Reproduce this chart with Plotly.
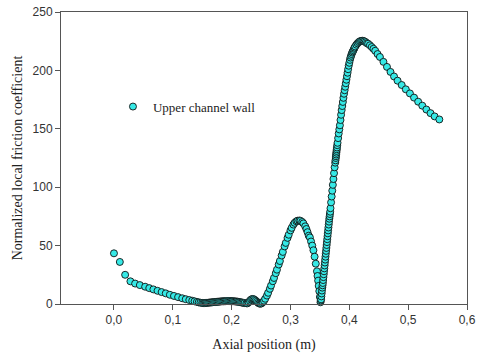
import plotly.graph_objects as go

# Axial position (m) and normalized local friction coefficient
axial_position = [
    0.000, 0.010, 0.019, 0.028, 0.036, 0.044, 0.053, 0.060, 0.067, 0.074,
    0.081, 0.088, 0.095, 0.102, 0.109, 0.116, 0.122, 0.128, 0.133, 0.137,
    0.141, 0.144, 0.147, 0.150, 0.152, 0.154, 0.156, 0.158,
    0.160, 0.162, 0.164, 0.166, 0.168, 0.170, 0.172, 0.174, 0.176, 0.178,
    0.180, 0.182, 0.184, 0.186, 0.188, 0.190, 0.192, 0.194, 0.196, 0.198,
    0.200, 0.202, 0.204, 0.206, 0.208, 0.210, 0.212, 0.214, 0.216, 0.218,
    0.220, 0.222, 0.225, 0.227,
    0.229, 0.231, 0.233, 0.235, 0.237, 0.239, 0.241, 0.243, 0.245, 0.247,
    0.249, 0.251, 0.253,
    0.255, 0.257, 0.260, 0.262, 0.265, 0.267, 0.270, 0.272, 0.275, 0.277,
    0.280, 0.282, 0.285, 0.287, 0.290, 0.292, 0.295, 0.297, 0.300, 0.302,
    0.305, 0.307, 0.310, 0.312, 0.315, 0.317, 0.320, 0.322, 0.325, 0.327,
    0.329, 0.331, 0.333, 0.335, 0.337, 0.339, 0.341, 0.343, 0.345, 0.346,
    0.347, 0.348, 0.349, 0.350, 0.351,
    0.3515, 0.352, 0.3525, 0.353, 0.3535, 0.354, 0.3545, 0.355, 0.3555, 0.356,
    0.3565, 0.357, 0.3575, 0.358, 0.3585, 0.359, 0.3595, 0.360, 0.3605, 0.361,
    0.3615, 0.362, 0.3625, 0.363, 0.3635, 0.364, 0.3645, 0.365, 0.3655, 0.366,
    0.3665, 0.367, 0.3675,
    0.368, 0.369, 0.370, 0.371, 0.372, 0.373, 0.374, 0.375, 0.376,
    0.3765, 0.377, 0.3773, 0.3776, 0.378, 0.3783, 0.3786, 0.379, 0.3795,
    0.380, 0.381, 0.382, 0.383, 0.384, 0.385, 0.386, 0.387, 0.388, 0.389,
    0.390, 0.391, 0.392, 0.393, 0.394, 0.395, 0.396, 0.397, 0.398, 0.399,
    0.400, 0.401, 0.402, 0.403, 0.404, 0.405, 0.406, 0.407, 0.408, 0.409,
    0.410, 0.412, 0.414, 0.416, 0.418, 0.420, 0.422, 0.424, 0.426, 0.428,
    0.430, 0.432, 0.435, 0.438, 0.441, 0.444, 0.448, 0.452, 0.458, 0.464,
    0.470, 0.476, 0.482, 0.489, 0.496, 0.503, 0.510, 0.517, 0.524, 0.531,
    0.538, 0.545, 0.553,
]
friction_coeff = [
    43.4, 36.0, 25.0, 19.4, 17.5, 16.2, 14.8, 13.6, 12.5, 11.3,
    10.2, 9.1, 7.9, 6.9, 5.9, 4.9, 4.1, 3.4, 2.8, 2.3,
    1.8, 1.4, 1.1, 0.9, 0.8, 0.8, 0.9, 1.0,
    1.1, 1.2, 1.3, 1.4, 1.5, 1.6, 1.7, 1.8, 1.9, 2.0,
    2.1, 2.2, 2.3, 2.3, 2.4, 2.4, 2.5, 2.5, 2.5, 2.5,
    2.4, 2.4, 2.3, 2.2, 2.1, 2.0, 1.8, 1.6, 1.4, 1.2,
    1.0, 0.8, 0.6, 0.6,
    1.5, 2.8, 3.8, 4.3, 4.2, 3.6, 2.8, 1.9, 1.0, 0.4,
    0.2, 0.6, 1.5,
    2.8, 4.5, 7.2, 9.6, 13.0, 15.8, 19.5, 22.3, 26.4, 29.4,
    33.8, 36.8, 41.5, 44.6, 49.3, 52.3, 56.6, 59.3, 63.0, 65.2,
    68.0, 69.5, 70.8, 71.3, 71.5, 71.2, 70.2, 69.0, 66.5, 64.2,
    61.5, 58.5, 57.0, 53.5, 50.0, 46.0, 40.5, 34.5, 28.0, 24.0,
    20.0, 15.5, 11.0, 6.0, 1.5,
    3.0, 4.0, 6.5, 9.0, 11.5, 14.0, 16.0, 18.0, 20.5, 23.0,
    25.5, 28.0, 30.5, 33.0, 35.5, 38.0, 40.5, 43.0, 45.5, 48.0,
    50.5, 53.0, 55.5, 58.0, 60.5, 63.0, 65.5, 68.0, 70.5, 73.0,
    75.0, 77.0, 79.0,
    82.0, 87.0, 92.0, 97.0, 102.0, 107.0, 112.0, 117.0, 121.0,
    123.0, 125.0, 126.5, 128.0, 129.5, 131.0, 132.5, 134.0, 136.0,
    138.0, 142.0, 146.0, 149.5, 153.0, 157.5, 162.0, 166.0, 169.5, 173.0,
    176.5, 180.0, 183.0, 186.0, 189.0, 192.0, 195.0, 198.0, 201.0, 204.0,
    206.5, 209.0, 211.0, 212.5, 214.0, 215.3, 216.3, 217.3, 218.5, 219.5,
    220.5, 222.0, 223.2, 224.2, 224.9, 225.3, 225.4, 225.2, 224.8, 224.1,
    223.2, 222.8, 221.5, 220.0, 218.5, 216.8, 214.0, 211.5, 207.3, 203.0,
    198.7, 194.8, 191.2, 187.5, 183.8, 180.3, 176.7, 173.2, 169.8, 166.5,
    163.4, 160.6, 158.0,
]

x_ticks = [0.0, 0.1, 0.2, 0.3, 0.4, 0.5, 0.6]
y_ticks = [0, 50, 100, 150, 200, 250]

fig = go.Figure()

fig.add_trace(
    go.Scatter(
        x=axial_position,
        y=friction_coeff,
        mode="markers",
        name="Upper channel wall",
        cliponaxis=False,
        marker=dict(size=7, color="#36e9e6", line=dict(color="#111111", width=0.9)),
    )
)

axis_style = dict(
    showline=True,
    linecolor="#555555",
    linewidth=1,
    mirror=True,
    ticks="outside",
    ticklen=5,
    tickcolor="#555555",
    showgrid=False,
    zeroline=False,
    automargin=False,
    tickfont=dict(family="Liberation Sans, Arial", size=12, color="#333333"),
)

fig.update_layout(
    width=480,
    height=355,
    margin=dict(l=61, r=13, t=12, b=51),
    paper_bgcolor="white",
    plot_bgcolor="white",
    separators=", ",
    showlegend=True,
    legend=dict(
        x=0.128,
        y=0.676,
        xanchor="left",
        yanchor="middle",
        bgcolor="rgba(0,0,0,0)",
        font=dict(family="Liberation Serif, Times New Roman", size=13, color="#222222"),
    ),
    xaxis=dict(
        range=[-0.09, 0.6],
        tickvals=x_ticks,
        tickformat=".1f",
        title=dict(
            text="Axial position (m)",
            font=dict(family="Liberation Serif, Times New Roman", size=14, color="#222222"),
            standoff=12,
        ),
        **axis_style,
    ),
    yaxis=dict(
        range=[0, 250],
        tickvals=y_ticks,
        title=dict(
            text="Normalized local friction coefficient",
            font=dict(family="Liberation Serif, Times New Roman", size=14, color="#222222"),
            standoff=6,
        ),
        **axis_style,
    ),
)

# the page's default body margin would shift the figure by 8px
fig.write_html(
    "out.html",
    config={"displayModeBar": False},
    post_script="document.body.style.margin='0';",
)
